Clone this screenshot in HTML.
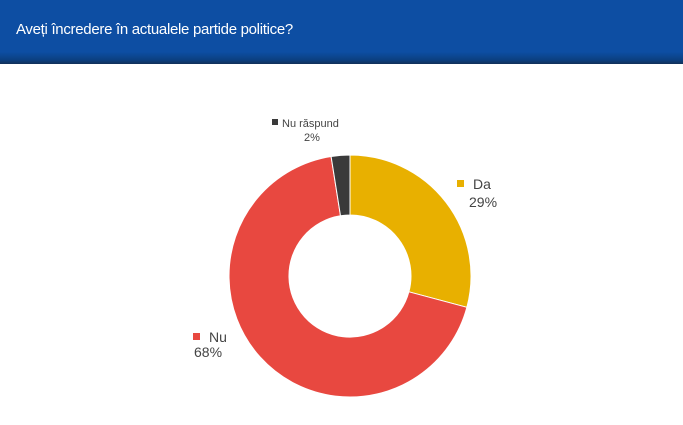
<!DOCTYPE html>
<html><head><meta charset="utf-8"><style>
body{margin:0;width:683px;height:425px;background:#fff;overflow:hidden;font-family:"Liberation Sans",sans-serif}
.hd{position:absolute;left:0;top:0;width:683px;height:64px;background:linear-gradient(#0d4ea3 0,#0d4ea3 52px,#0b3f80 60px,#123058 64px)}
.hd span{position:absolute;left:16px;top:21px;color:#fff;font-size:15px;letter-spacing:-0.3px}
.l{position:absolute;font-size:12px;color:#444;text-align:center;line-height:14px}
</style></head><body>
<div class="hd"><span>Aveți încredere în actualele partide politice?</span></div>
<svg width="683" height="425" style="position:absolute;left:0;top:0">
<g stroke="#fff" stroke-width="1">
<path d="M350,155 A121,121 0 0 1 466.9,307.3 L408.9,291.8 A61,61 0 0 0 350,215 Z" fill="#e8b000"/>
<path d="M466.9,307.3 A121,121 0 1 1 331.1,156.5 L340.5,215.8 A61,61 0 1 0 408.9,291.8 Z" fill="#e84840"/>
<path d="M331.1,156.5 A121,121 0 0 1 350,155 L350,215 A61,61 0 0 0 340.5,215.8 Z" fill="#3a3a3a"/>
</g>
<rect x="272" y="119" width="6" height="6" fill="#3a3a3a"/>
<rect x="457" y="180" width="7" height="7" fill="#e8b000"/>
<rect x="193" y="333" width="7" height="7" fill="#e84840"/>
</svg>
<div class="l" style="left:282px;top:117px;font-size:11px">Nu răspund</div>
<div class="l" style="left:304px;top:131px;font-size:11px">2%</div>
<div class="l" style="left:473px;top:177px;font-size:14px">Da</div>
<div class="l" style="left:469px;top:195px;font-size:14px">29%</div>
<div class="l" style="left:209px;top:330px;font-size:14px">Nu</div>
<div class="l" style="left:194px;top:345px;font-size:14px">68%</div>
</body></html>
